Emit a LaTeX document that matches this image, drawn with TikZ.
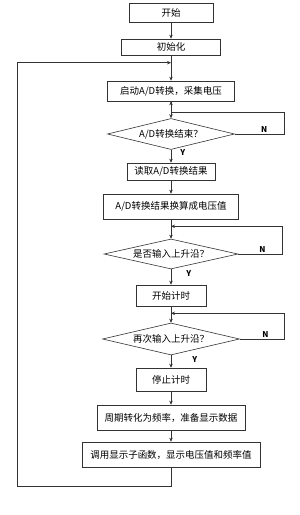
\documentclass[tikz,border=0pt]{standalone}
\usepackage{fontspec}
\setmainfont{Noto Sans CJK SC}
\usepackage{tikz}
\usetikzlibrary{shapes.geometric, arrows.meta, positioning}

\begin{document}
\begin{tikzpicture}[node distance=40pt, >={Stealth[length=4pt,width=3.5pt]}, line width=0.6pt, draw=black!80,
    font=\fontsize{9.5}{11}\selectfont]

    % Define the styles
    \tikzstyle{block} = [rectangle, draw=black!80, text centered, inner sep=0pt]
    \tikzstyle{arrow} = [->, draw=black!80]
    \tikzstyle{decision} = [diamond, draw=black!80, text centered, aspect=4, inner sep=0pt]
    \tikzstyle{tag} = [font=\fontsize{8}{9}\selectfont\bfseries, inner sep=1pt]

    \useasboundingbox (0,0) rectangle (300pt,-515pt);

    % Nodes
    \node (start) [block, minimum width=84pt, minimum height=19pt] at (171pt,-12.5pt) {开始};
    \node (init) [block, below of=start, yshift=5.5pt, minimum width=99pt, minimum height=16pt] {初始化};
    \node (adc) [block, below of=init, yshift=-4pt, minimum width=127pt, minimum height=20pt] {启动A/D转换，采集电压};
    \node (d1) [decision, below of=adc, yshift=-3pt, minimum width=127pt, minimum height=31pt] {A/D转换结束？};
    \node (read) [block, below of=d1, yshift=2.5pt, minimum width=88pt, minimum height=17pt] {读取A/D转换结果};
    \node (calc) [block, below of=read, yshift=5pt, minimum width=135pt, minimum height=25pt] {A/D转换结果换算成电压值};
    \node (d2) [decision, below of=calc, yshift=-7.5pt, minimum width=134pt, minimum height=30pt] {是否输入上升沿？};
    \node (timer) [block, below of=d2, yshift=-1.5pt, minimum width=70pt, minimum height=21pt] {开始计时};
    \node (d3) [decision, below of=timer, yshift=-3.5pt, minimum width=137pt, minimum height=32pt] {再次输入上升沿？};
    \node (stop) [block, below of=d3, yshift=-0.5pt, minimum width=70pt, minimum height=23pt] {停止计时};
    \node (period) [block, below of=stop, yshift=2pt, minimum width=148pt, minimum height=25pt] {周期转化为频率，准备显示数据};
    \node (show) [block, below of=period, yshift=3pt, minimum width=178pt, minimum height=25pt] {调用显示子函数，显示电压值和频率值};

    % Arrows
    \draw [arrow] (start) -- (init);
    \draw [arrow] (init) -- (adc);
    \draw [arrow] (adc) -- (d1);
    \draw [arrow] (d1) -- node[tag, anchor=west, xshift=8pt, pos=0.2] {Y} (read);
    \draw [arrow] (read) -- (calc);
    \draw [arrow] (calc) -- (d2);
    \draw [arrow] (d2) -- node[tag, anchor=west, xshift=14pt, pos=0.3] {Y} (timer);
    \draw [arrow] (timer) -- (d3);
    \draw [arrow] (d3) -- node[tag, anchor=west, xshift=20pt, pos=0.3] {Y} (stop);
    \draw [arrow] (stop) -- (period);
    \draw [arrow] (period) -- (show);

    % Waiting loops
    \draw [arrow] (d1.east) -- node[tag, anchor=south, pos=0.6] {N} ++(49pt,0) -- ++(0,22pt) -| (adc.south);
    \draw [arrow] (d2.east) -- node[tag, anchor=south, pos=0.55] {N} ++(44pt,0) |- ([yshift=-7pt]calc.south);
    \draw [arrow] (d3.east) -- node[tag, anchor=south, pos=0.58] {N} ++(44pt,0) |- ([yshift=-7pt]timer.south);

    % Back to the start of the measurement
    \draw [arrow] (show.south) -- ++(0,-19pt) -- ++(-154pt,0) |- ([yshift=18pt]adc.north);

\end{tikzpicture}
\end{document}
